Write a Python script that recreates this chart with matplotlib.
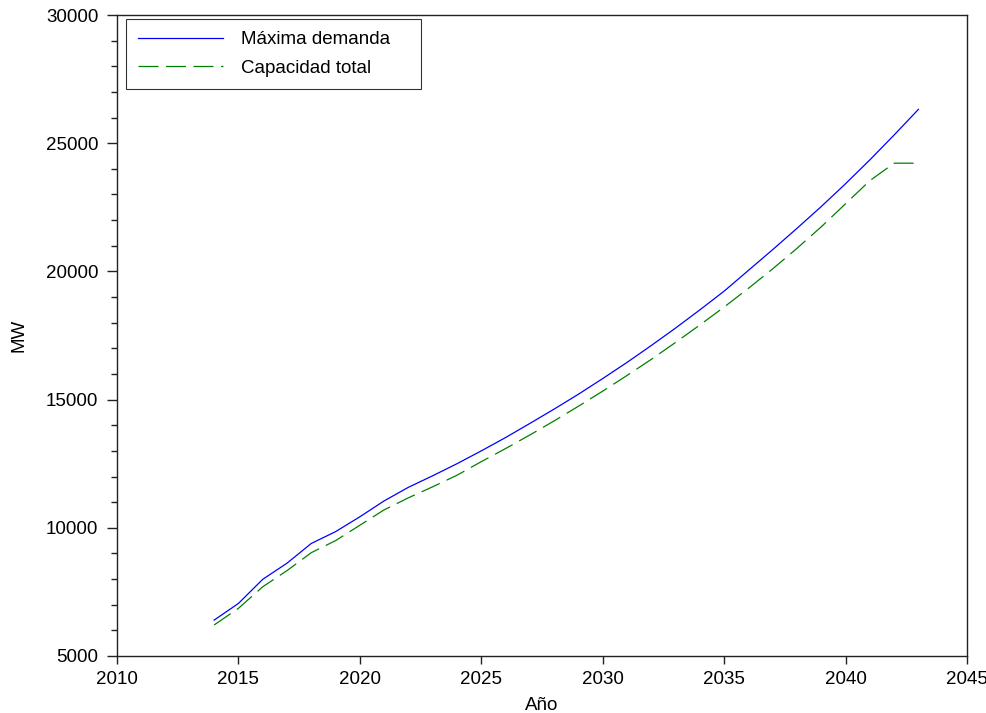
import matplotlib
matplotlib.use("Agg")
import matplotlib.pyplot as plt
from matplotlib.ticker import MultipleLocator

plt.rcParams['font.family'] = ['Liberation Sans', 'DejaVu Sans']

years = list(range(2014, 2044))
max_demand = [6400, 7050, 7990, 8620, 9390, 9850, 10430, 11050, 11580, 12030,
              12500, 13000, 13520, 14070, 14630, 15210, 15820, 16450, 17110, 17790,
              18500, 19230, 20040, 20850, 21680, 22530, 23420, 24350, 25320, 26320]
total_capacity = [6210, 6860, 7700, 8330, 9030, 9500, 10100, 10700, 11170, 11600,
                  12050, 12580, 13090, 13620, 14170, 14740, 15330, 15940, 16570, 17230,
                  17910, 18610, 19340, 20100, 20900, 21740, 22640, 23540, 24220, 24220]

series_labels = ["Máxima demanda", "Capacidad total"]
x_label = "Año"
y_label = "MW"

fig = plt.figure(figsize=(9.86, 7.13), dpi=100)
ax = fig.add_axes([117 / 986, 57 / 713, 850 / 986, 641 / 713])

ax.plot(years, max_demand, color="#0000ff", lw=0.9, label=series_labels[0])
ax.plot(years, total_capacity, color="#008000", lw=0.9,
        linestyle=(0, (16, 6)), label=series_labels[1])

ax.set_xlim(2010, 2045)
ax.set_ylim(5000, 30000)
ax.xaxis.set_major_locator(MultipleLocator(5))
ax.yaxis.set_major_locator(MultipleLocator(5000))
ax.yaxis.set_minor_locator(MultipleLocator(1000))

edge = "#222222"
for side, sp in ax.spines.items():
    sp.set_color(edge)
    sp.set_linewidth(1.0)

ax.tick_params(axis="x", which="major", direction="out", length=6, width=1,
               color=edge, labelsize=13.5, pad=5, top=False)
ax.tick_params(axis="y", which="major", direction="out", length=7.5, width=1,
               color=edge, labelsize=13.5, pad=6, right=False)
ax.tick_params(axis="y", which="minor", direction="out", length=4, width=1,
               color=edge, right=False)

ax.set_xlabel(x_label, fontsize=13.5, labelpad=6)
ax.set_ylabel(y_label, fontsize=13.5, labelpad=13)

# legend frame spans a fixed width in axes coordinates
leg_w = 295 / 850
leg_h = 67 / 641
leg = ax.legend(loc="upper left",
                bbox_to_anchor=(9 / 850, 1 - 4 / 641 - leg_h, leg_w, leg_h),
                mode="expand", borderaxespad=0, fontsize=13.5, frameon=True,
                fancybox=False, handlelength=4.5, handletextpad=1.0,
                borderpad=0.65, labelspacing=0.6)
leg.get_frame().set_edgecolor("black")
leg.get_frame().set_linewidth(0.8)

fig.savefig("out.png", dpi=100)
